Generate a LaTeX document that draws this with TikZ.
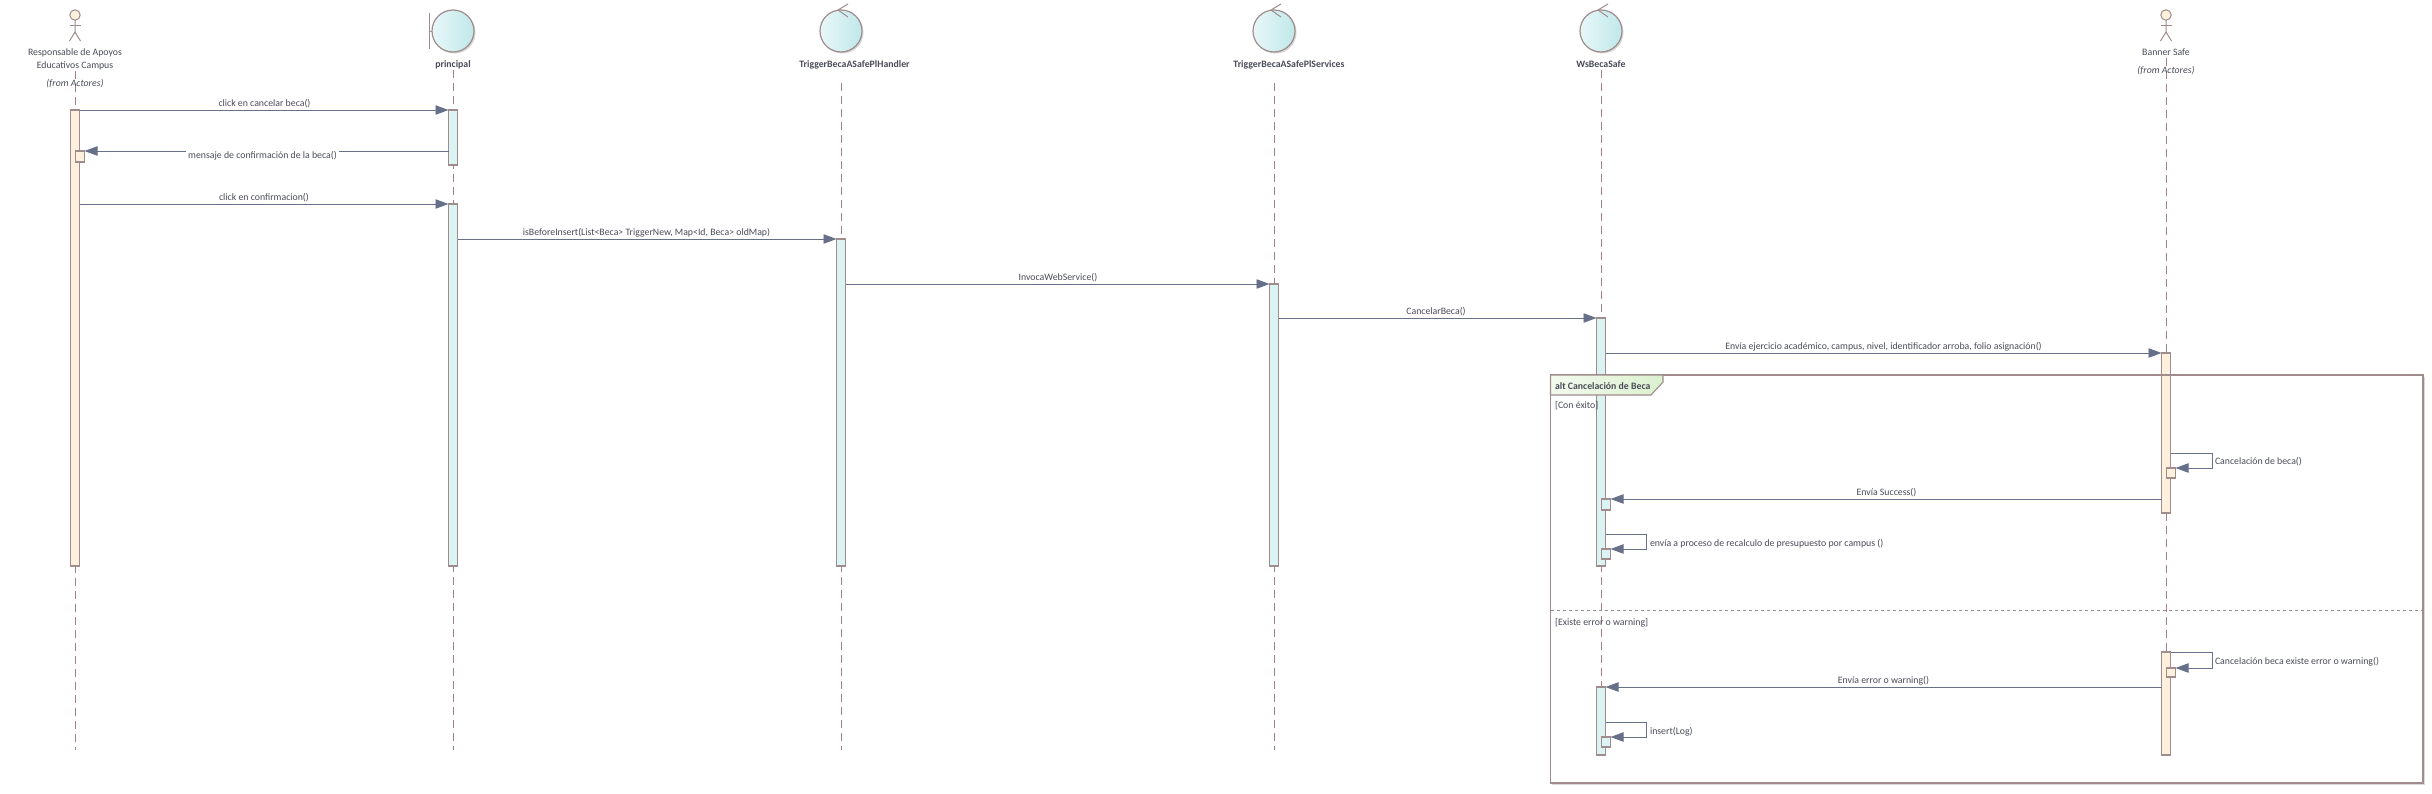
\documentclass[tikz,border=0pt]{standalone}
\usepackage{fontspec}
\setmainfont{Carlito}
\usetikzlibrary{arrows.meta,shapes.geometric}
\definecolor{edge}{HTML}{A08C8C}
\definecolor{msgc}{HTML}{667089}
\definecolor{lifec}{HTML}{A08087}
\definecolor{txt}{HTML}{4A4C58}
\definecolor{peach}{HTML}{FDF0DC}
\definecolor{aqua}{HTML}{DCF3F3}
\definecolor{ballL}{HTML}{E8F7F8}
\definecolor{ballR}{HTML}{C0E8EA}
\definecolor{tabL}{HTML}{F3FAEE}
\definecolor{tabR}{HTML}{DBF1CF}
\tikzset{
  lbl/.style={font=\fontsize{4.9pt}{6pt}\selectfont,text=txt,inner sep=0pt,outer sep=0pt,yshift=-0.3pt},
  lblw/.style={lbl,fill=white,inner xsep=1pt,inner ysep=0.5pt},
  ital/.style={lbl,font=\fontsize{4.9pt}{6pt}\selectfont\itshape},
  bold/.style={lbl,font=\fontsize{4.9pt}{6pt}\selectfont\bfseries},
  msg/.style={draw=msgc,line width=0.45pt,-{Triangle[length=6.5pt,width=4.7pt,fill=msgc]}},
  life/.style={draw=lifec,line width=0.45pt,dash pattern=on 4pt off 2.5pt},
  actfig/.style={draw=edge,line width=0.5pt},
  ball/.style={circle,draw=edge,line width=0.6pt,minimum size=21pt,inner sep=0pt,outer sep=0pt,left color=ballL,right color=ballR},
  ballsh/.style={circle,fill=black!16,minimum size=21pt,inner sep=0pt,outer sep=0pt},
  framec/.style={draw=edge,line width=0.55pt},
}
% name, x, y1, y2, fill
\newcommand{\actbar}[5]{\node[draw=edge,fill=#5,line width=0.55pt,rectangle,inner sep=0pt,outer sep=0pt,minimum width=4.5pt,minimum height={(#4-#3)*0.5pt},anchor=north] (#1) at (#2,#3) {};}
\newcommand{\stick}[2]{%
  \node[circle,draw=edge,fill=peach,line width=0.5pt,minimum size=5.2pt,inner sep=0pt,outer sep=0pt] (#1) at (#2,15) {};
  \draw[actfig] (#1.south) -- (#2,32) -- (#2-5.5,41);
  \draw[actfig] (#2,32) -- (#2+5.5,41);
  \draw[actfig] (#2-5.5,25) -- (#2+5.5,25);}
\begin{document}
\begin{tikzpicture}[x=0.5pt,y=-0.5pt]
\useasboundingbox (0,0) rectangle (2432,793);
\fill[white] (0,0) rectangle (2432,793);
% lifelines
\foreach \n/\x/\s in {a/75/71,p/453/70,h/841/83,s/1274/83,w/1601/70,b/2166/58}{
  \coordinate (\n top) at (\x,\s);
  \coordinate (\n end) at (\x,750);
  \draw[life] (\n top) -- (\n end);
}
% heads
\stick{actA}{75}
\stick{actB}{2166}
\node[ballsh] at (454.5,32.5) {};
\node[ball] (bnd) at (453,31) {};
\draw[actfig] (429,13) -- (429,49);
\draw[actfig] (429,31) -- (bnd.west);
\foreach \n/\x in {ctlH/841,ctlS/1274,ctlW/1601}{
  \node[ballsh] at (\x+1.5,32.5) {};
  \node[ball] (\n) at (\x,31) {};
  \draw[actfig] (\x+7,4) -- (\x-3,10) -- (\x+7,17);
}
% head labels
\node[lbl] (t1) at (75,52) {Responsable de Apoyos};
\node[lbl] (t2) at (75,65) {Educativos Campus};
\node[ital] (t3) at (75,83) {(from Actores)};
\node[bold] (t4) at (453,64) {principal};
\node[bold] (t5) at (854.5,64) {TriggerBecaASafePlHandler};
\node[bold] (t6) at (1289,64) {TriggerBecaASafePlServices};
\node[bold] (t7) at (1601,64) {WsBecaSafe};
\node[lbl] (t8) at (2166,52) {Banner Safe};
\node[ital] (t9) at (2166,70) {(from Actores)};
% activation bars
\actbar{ba}{75}{110}{566}{peach}
\actbar{bp1}{453}{110}{165}{aqua}
\actbar{bp2}{453}{204}{566}{aqua}
\actbar{bh}{841}{239}{566}{aqua}
\actbar{bs}{1274}{284}{566}{aqua}
\actbar{bw1}{1601}{318}{566}{aqua}
\actbar{bb1}{2166}{353}{513}{peach}
\actbar{bb2}{2166}{652}{755}{peach}
\actbar{bw2}{1601}{687}{755}{aqua}
% small boxes
\actbar{xa}{80}{151}{162}{peach}
\actbar{xb1}{2171}{468}{478}{peach}
\actbar{xw1}{1606}{499}{510}{aqua}
\actbar{xw2}{1606}{549}{559}{aqua}
\actbar{xb2}{2171}{668}{677}{peach}
\actbar{xw3}{1606}{737}{747}{aqua}
% message heights
\coordinate (m2) at (0,151);
\coordinate (m3) at (0,204);
\coordinate (m4) at (0,239);
\coordinate (m5) at (0,284);
\coordinate (m6) at (0,318);
\coordinate (m7) at (0,353);
\coordinate (m8) at (0,499);
\coordinate (m9) at (0,687);
\draw[msg] (ba.north east) -- (bp1.north west);
\draw[msg] (bp1.west |- m2) -- (xa.north east);
\draw[msg] (ba.east |- m3) -- (bp2.north west);
\draw[msg] (bp2.east |- m4) -- (bh.north west);
\draw[msg] (bh.east |- m5) -- (bs.north west);
\draw[msg] (bs.east |- m6) -- (bw1.north west);
\draw[msg] (bw1.east |- m7) -- (bb1.north west);
\draw[msg] (bb1.west |- m8) -- (xw1.north east);
\draw[msg] (bb2.west |- m9) -- (bw2.north east);
% self messages
\coordinate (c1a) at (2212,453); \coordinate (c1b) at (2212,468);
\coordinate (c2a) at (1646,534); \coordinate (c2b) at (1646,549);
\coordinate (c3a) at (2212,652); \coordinate (c3b) at (2212,668);
\coordinate (c4a) at (1646,722); \coordinate (c4b) at (1646,737);
\draw[msg] (bb1.east |- c1a) -- (c1a) -- (c1b) -- (xb1.north east);
\draw[msg] (bw1.east |- c2a) -- (c2a) -- (c2b) -- (xw2.north east);
\draw[msg] (bb2.east |- c3a) -- (c3a) -- (c3b) -- (xb2.north east);
\draw[msg] (bw2.east |- c4a) -- (c4a) -- (c4b) -- (xw3.north east);
% frame
\coordinate (fTL) at (1550.5,375);
\coordinate (fBR) at (2423,783);
\draw[black!15,line width=0.6pt] (1552,784.3) -- (2424.3,784.3) -- (2424.3,377);
\draw[framec] (fTL) rectangle (fBR);
\draw[draw=edge,line width=0.45pt,dash pattern=on 1.6pt off 1.4pt] (1550.5,610) -- (2423,610);
\draw[framec,left color=tabL,right color=tabR] (1550.5,375) -- (1663,375) -- (1663,382) -- (1651,395) -- (1550.5,395) -- cycle;
\node[bold,anchor=west] (ftitle) at (1555,385) {alt Cancelación de Beca};
\node[lbl,anchor=west] (g1) at (1555,405) {[Con éxito]};
\node[lbl,anchor=west] (g2) at (1555,622) {[Existe error o warning]};
% message labels
\node[lbl] (l1) at (264.5,103) {click en cancelar beca()};
\node[lblw] (l2) at (262.5,155) {mensaje de confirmación de la beca()};
\node[lbl] (l3) at (264,197) {click en confirmacion()};
\node[lbl] (l4) at (646.5,232) {isBeforeInsert(List<Beca> TriggerNew, Map<Id, Beca> oldMap)};
\node[lbl] (l5) at (1058,277) {InvocaWebService()};
\node[lbl] (l6) at (1436,311) {CancelarBeca()};
\node[lbl] (l7) at (1883.5,346) {Envía ejercicio académico, campus, nivel, identificador arroba, folio asignación()};
\node[lbl,anchor=west] (l8) at (2215,461) {Cancelación de beca()};
\node[lbl] (l9) at (1886.5,492) {Envía Success()};
\node[lbl,anchor=west] (l10) at (1650,543) {envía a proceso de recalculo de presupuesto por campus ()};
\node[lbl,anchor=west] (l11) at (2215,661) {Cancelación beca existe error o warning()};
\node[lbl] (l12) at (1883.5,680) {Envía error o warning()};
\node[lbl,anchor=west] (l13) at (1650,731) {insert(Log)};
\end{tikzpicture}
\end{document}
